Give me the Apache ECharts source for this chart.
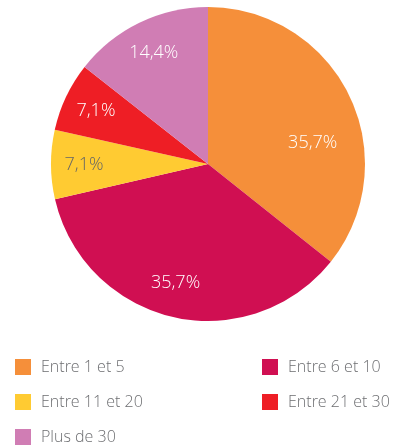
<!DOCTYPE html>
<html>
<head>
<meta charset="utf-8">
<style>
    html, body { margin: 0; padding: 0; background: #fff; }
    #chart { width: 404px; height: 447px; }
</style>
<script src="https://cdn.jsdelivr.net/npm/echarts@6/dist/echarts.min.js"></script>
</head>
<body>
<div id="chart"></div>
<script>
// données du graphique (en %)
var categories = ['Entre 1 et 5', 'Entre 6 et 10', 'Entre 11 et 20', 'Entre 21 et 30', 'Plus de 30'];
var values = [35.7, 35.7, 7.1, 7.1, 14.4];
var colors = ['#F58F3A', '#D00F52', '#FFCB32', '#EE1E25', '#D07DB4'];
var labelColors = ['#fff', '#fff', '#666', '#fff', '#fff'];
// petits décalages des étiquettes (px) par rapport au milieu de la part
var labelNudge = [[-7, 33], [-5, -2], [0, 0], [0, 0], [0, 0]];

var cx = 208, cy = 164, r = 157;
var labelR = r * 0.79;

var total = 0;
for (var i = 0; i < values.length; i++) total += values[i];

var seriesData = [];
for (var i = 0; i < categories.length; i++) {
    seriesData.push({
        name: categories[i],
        value: values[i],
        itemStyle: { color: colors[i] },
        label: { color: labelColors[i] }
    });
}

function midAngle(idx) {
    var acc = 0;
    for (var j = 0; j < idx; j++) acc += values[j];
    acc += values[idx] / 2;
    // départ à 12h, sens horaire
    return (90 - acc / total * 360) * Math.PI / 180;
}

var legendText = {
    color: '#6d6e71',
    fontSize: 16,
    fontWeight: 300,
    fontFamily: 'Open Sans',
    padding: [0, 0, 0, 5]
};

function makeLegend(left, names) {
    return {
        orient: 'vertical',
        left: left,
        top: 359,
        height: 100,
        padding: 0,
        itemWidth: 16,
        itemHeight: 16,
        itemGap: 19,
        icon: 'rect',
        textStyle: legendText,
        data: names
    };
}

var myChart = echarts.init(document.getElementById('chart'));
var option = {
    animation: false,
    legend: [
        makeLegend(15, [categories[0], categories[2], categories[4]]),
        makeLegend(262, [categories[1], categories[3]])
    ],
    series: [
        {
            type: 'pie',
            center: [cx, cy],
            radius: r,
            startAngle: 90,
            clockwise: true,
            silent: true,
            itemStyle: { borderWidth: 0 },
            label: {
                show: true,
                position: 'inside',
                fontSize: 18,
                fontWeight: 300,
                fontFamily: 'Open Sans',
                formatter: function (p) {
                    return p.value.toFixed(1).replace('.', ',') + '%';
                }
            },
            labelLine: { show: false },
            labelLayout: function (p) {
                var a = midAngle(p.dataIndex);
                var n = labelNudge[p.dataIndex];
                return {
                    x: cx + labelR * Math.cos(a) + n[0],
                    y: cy - labelR * Math.sin(a) + n[1],
                    align: 'center',
                    verticalAlign: 'middle'
                };
            },
            data: seriesData
        }
    ]
};
myChart.setOption(option);
</script>
</body>
</html>
